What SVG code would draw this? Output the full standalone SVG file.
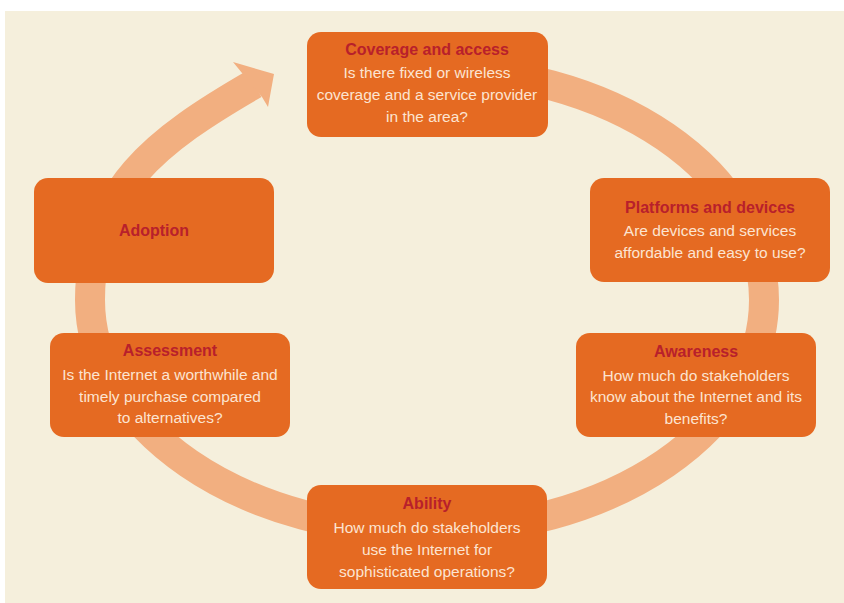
<svg xmlns="http://www.w3.org/2000/svg" width="844" height="603" viewBox="0 0 844 603">
<style>
.box{fill:#E56A22}
.t{font-family:"Liberation Sans",Arial,sans-serif;text-anchor:middle}
.h{font-size:16px;font-weight:bold;fill:#B8202B}
.b{font-size:15.5px;fill:#FCE4D1}
.ring{fill:none;stroke:#F2AF80;stroke-width:30}
</style>
<rect x="0" y="0" width="844" height="603" fill="#FFFFFF"/>
<rect x="5" y="11" width="839" height="592" fill="#F5EFDC"/>
<g id="connectors">
<path class="ring" d="M427,69 A337,231 0 0 1 764,300 A337,231 0 0 1 427,531 A337,231 0 0 1 90,300 C90,190 157,140 254,84"/>
<polygon points="242,73 233,62 274,74 268,107 262,97" fill="#F2AF80"/>
</g>
<g id="coverage">
<rect class="box" x="307" y="32" width="241" height="105" rx="14"/>
<text class="t h" x="427" y="55">Coverage and access</text>
<text class="t b" x="427" y="78">Is there fixed or wireless</text>
<text class="t b" x="427" y="100">coverage and a service provider</text>
<text class="t b" x="427" y="122">in the area?</text>
</g>
<g id="platforms">
<rect class="box" x="590" y="178" width="240" height="104" rx="14"/>
<text class="t h" x="710" y="213">Platforms and devices</text>
<text class="t b" x="710" y="236">Are devices and services</text>
<text class="t b" x="710" y="258">affordable and easy to use?</text>
</g>
<g id="awareness">
<rect class="box" x="576" y="333" width="240" height="104" rx="14"/>
<text class="t h" x="696" y="357">Awareness</text>
<text class="t b" x="696" y="381">How much do stakeholders</text>
<text class="t b" x="696" y="402">know about the Internet and its</text>
<text class="t b" x="696" y="424">benefits?</text>
</g>
<g id="ability">
<rect class="box" x="307" y="485" width="240" height="104" rx="14"/>
<text class="t h" x="427" y="509">Ability</text>
<text class="t b" x="427" y="533">How much do stakeholders</text>
<text class="t b" x="427" y="555">use the Internet for</text>
<text class="t b" x="427" y="577">sophisticated operations?</text>
</g>
<g id="assessment">
<rect class="box" x="50" y="333" width="240" height="104" rx="14"/>
<text class="t h" x="170" y="356">Assessment</text>
<text class="t b" x="170" y="380">Is the Internet a worthwhile and</text>
<text class="t b" x="170" y="402">timely purchase compared</text>
<text class="t b" x="170" y="423">to alternatives?</text>
</g>
<g id="adoption">
<rect class="box" x="34" y="178" width="240" height="105" rx="14"/>
<text class="t h" x="154" y="236">Adoption</text>
</g>
</svg>
